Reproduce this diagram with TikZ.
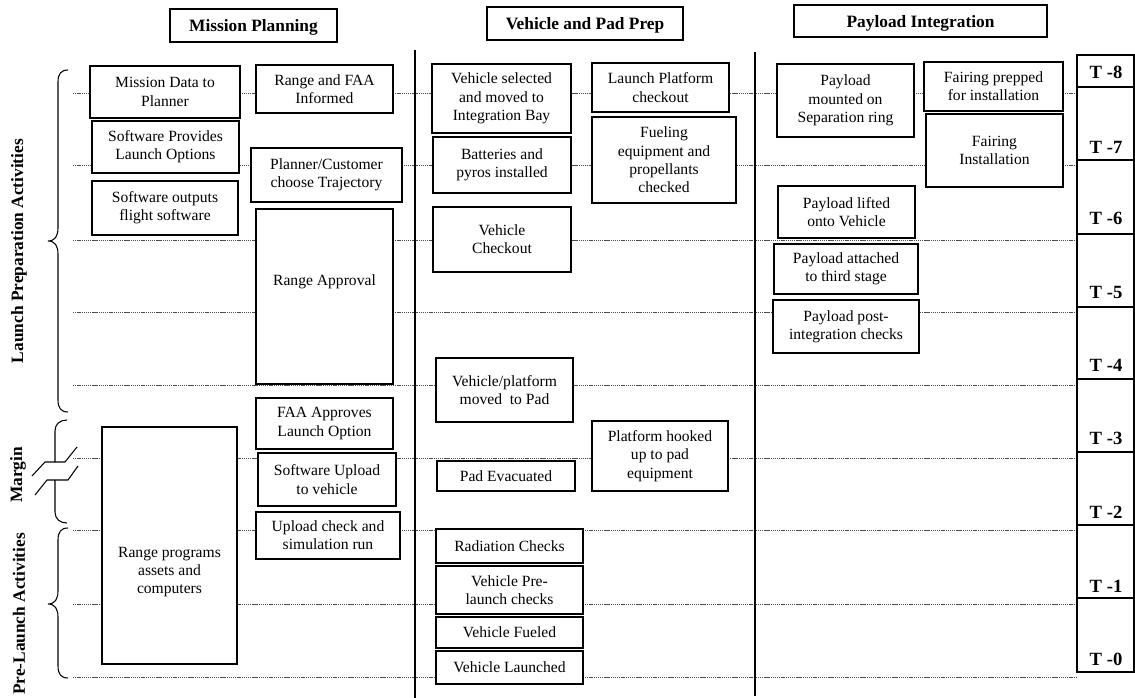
\documentclass[tikz,border=0pt]{standalone}
\usepackage{fontspec}
\setmainfont{Liberation Serif}
\newcommand\tbox[7][box]{\node[#1,minimum width={(#5-#3)*0.75pt},minimum height={(#6-#4)*0.75pt}] (#2) at ({(#3+#5)/2},{(#4+#6)/2}) {#7};}
\begin{document}
\begin{tikzpicture}[x=0.75pt,y=-0.75pt,
  box/.style={draw,line width=0.8pt,fill=white,align=center,inner sep=0pt,font=\fontsize{11.7}{13.7}\selectfont},
  txt/.style={align=center,inner sep=0pt,font=\fontsize{11.7}{13.7}\selectfont},
  hdr/.style={draw,line width=0.8pt,fill=white,inner sep=0pt,text depth=0pt,font=\fontsize{13}{15}\selectfont\bfseries},
  trow/.style={draw,line width=0.8pt,fill=white,inner sep=0pt},
  tlab/.style={inner sep=0pt,font=\fontsize{14}{16}\selectfont\bfseries},
  gridline/.style={line width=0.5pt,black!70,dash pattern=on 1pt off 0.6pt},
  colline/.style={line width=0.9pt},
  brc/.style={line width=0.8pt},
  side/.style={rotate=90,inner sep=0pt,font=\fontsize{13}{15}\selectfont\bfseries}]
\useasboundingbox (0,0) rectangle (1135,698);
\fill[white] (0,0) rectangle (1135,698);

% grid coordinates
\foreach \i/\y in {8/93,7/165,6/240,5/312,4/385,3/458,2/530,1/604,0/677}{
  \coordinate (gL\i) at (73,\y);
  \coordinate (gR\i) at (1077,\y);
}
\foreach \i in {8,7,6,5,4,3,2,1,0}{\draw[gridline] (gL\i) -- (gR\i);}

% column separators
\coordinate (c1t) at (415,50); \coordinate (c1b) at (415,698);
\coordinate (c2t) at (755,52); \coordinate (c2b) at (755,696);
\draw[colline] (c1t) -- (c1b);
\draw[colline] (c2t) -- (c2b);

% headers
\tbox[hdr]{hmp}{170}{9}{337}{42}{Mission Planning}
\tbox[hdr]{hvp}{487}{7}{683}{40}{Vehicle and Pad Prep}
\tbox[hdr]{hpi}{794}{5}{1047}{37}{Payload Integration}

% Mission Planning
\tbox{mdp}{90}{66}{240}{118}{Mission Data to\\Planner}
\tbox{rfi}{256}{65}{393}{113}{Range and FAA\\Informed}
\tbox{spl}{92}{121}{239}{173}{Software Provides\\Launch Options}
\tbox{pct}{251}{148}{402}{202}{Planner/Customer\\choose Trajectory}
\tbox{sof}{92}{181}{238}{235}{Software outputs\\flight software}
\tbox{rap}{256}{209}{393}{384}{}
\node[txt] (raptxt) at (324.5,282) {Range Approval};
\tbox{faa}{256}{398}{393}{449}{FAA Approves\\Launch Option}
\tbox{suv}{258}{453}{396}{506}{Software Upload\\to vehicle}
\tbox{ucs}{256}{512}{400}{559}{Upload check and\\simulation run}
\tbox{rpa}{102}{427}{237}{664}{}
\node[txt] (rpatxt) at (169.5,572) {Range programs\\assets and\\computers};

% Vehicle and Pad Prep
\tbox{vsm}{432}{64}{571}{133}{Vehicle selected\\and moved to\\Integration Bay}
\tbox{lpc}{592}{63}{729}{112}{Launch Platform\\checkout}
\tbox{bpi}{433}{137}{571}{193}{Batteries and\\pyros installed}
\tbox{fep}{592}{117}{736}{203}{Fueling\\equipment and\\propellants\\checked}
\tbox{vco}{433}{207}{571}{272}{Vehicle\\Checkout}
\tbox{vmp}{436}{358}{573}{422}{Vehicle/platform\\moved\ \ to Pad}
\tbox{phe}{592}{421}{728}{491}{Platform hooked\\up to pad\\equipment}
\tbox{pev}{437}{461}{575}{491}{Pad Evacuated}
\tbox{rch}{436}{529}{583}{563}{Radiation Checks}
\tbox{vpl}{436}{566}{583}{614}{Vehicle Pre-\\launch checks}
\tbox{vfu}{436}{617}{583}{648}{Vehicle Fueled}
\tbox{vla}{436}{651}{583}{684}{Vehicle Launched}

% Payload Integration
\tbox{pms}{777}{64}{914}{137}{Payload\\mounted on\\Separation ring}
\tbox{fpi}{924}{62}{1063}{111}{Fairing prepped\\for installation}
\tbox{fin}{926}{114}{1063}{187}{Fairing\\Installation}
\tbox{plv}{778}{186}{915}{238}{Payload lifted\\onto Vehicle}
\tbox{pts}{774}{244}{918}{294}{Payload attached\\to third stage}
\tbox{ppc}{773}{300}{919}{353}{Payload post-\\integration checks}

% T column
\tbox[trow]{r8}{1077}{55}{1134}{87}{}
\tbox[trow]{r7}{1077}{87}{1134}{160}{}
\tbox[trow]{r6}{1077}{160}{1134}{234}{}
\tbox[trow]{r5}{1077}{234}{1134}{307}{}
\tbox[trow]{r4}{1077}{307}{1134}{379}{}
\tbox[trow]{r3}{1077}{379}{1134}{452}{}
\tbox[trow]{r2}{1077}{452}{1134}{525}{}
\tbox[trow]{r1}{1077}{525}{1134}{598}{}
\tbox[trow]{r0}{1077}{598}{1134}{672}{}
\node[tlab] (t8) at (1106,72) {T -8};
\node[tlab] (t7) at (1106,147) {T -7};
\node[tlab] (t6) at (1106,218) {T -6};
\node[tlab] (t5) at (1106,292) {T -5};
\node[tlab] (t4) at (1106,365) {T -4};
\node[tlab] (t3) at (1106,438) {T -3};
\node[tlab] (t2) at (1106,512) {T -2};
\node[tlab] (t1) at (1106,586) {T -1};
\node[tlab] (t0) at (1106,659) {T -0};

% braces
\draw[brc] (68,70) .. controls (61,70) and (58,74) .. (58,82) -- (58,228)
  .. controls (58,236) and (55,241) .. (48,241)
  .. controls (55,241) and (58,246) .. (58,254) -- (58,400)
  .. controls (58,408) and (61,412) .. (68,412);
\draw[brc] (67,420) .. controls (60,420) and (55,424) .. (55,431) -- (55,462);
\draw[brc] (55,480) -- (55,512) .. controls (55,519) and (60,523) .. (67,523);
\draw[brc] (32,476) -- (45,462) -- (65,462) -- (77,447);
\draw[brc] (35,495) -- (47,480) -- (68,480) -- (78,466);
\draw[brc] (68,528) .. controls (61,528) and (58,532) .. (58,540) -- (58,591)
  .. controls (58,599) and (55,604) .. (48,604)
  .. controls (55,604) and (58,609) .. (58,617) -- (58,666)
  .. controls (58,674) and (61,678) .. (68,678);

% side labels
\node[side] (lpa) at (19,251) {Launch Preparation Activities};
\node[side] (mrg) at (18,475) {Margin};
\node[side] (pla) at (19,614) {Pre-Launch Activities};
\end{tikzpicture}
\end{document}
